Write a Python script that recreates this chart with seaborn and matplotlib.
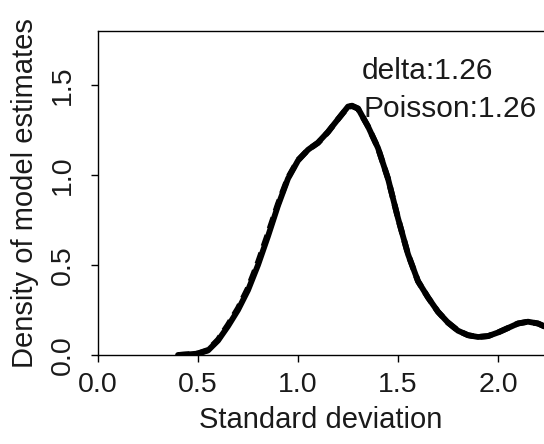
import matplotlib
matplotlib.use("Agg")
import matplotlib.pyplot as plt
import seaborn as sns
import pandas as pd

# Data
sd_grid = [0.40, 0.45, 0.50, 0.55, 0.60, 0.65, 0.70, 0.75, 0.80, 0.85,
           0.90, 0.95, 1.00, 1.05, 1.10, 1.15, 1.20, 1.25, 1.27, 1.30,
           1.35, 1.40, 1.45, 1.50, 1.55, 1.60, 1.65, 1.70, 1.75, 1.80,
           1.85, 1.90, 1.95, 2.00, 2.05, 2.10, 2.15, 2.20, 2.25]
delta_density = [0.0, 0.003, 0.008, 0.025, 0.08, 0.16, 0.25, 0.36, 0.50, 0.66,
                 0.83, 0.98, 1.08, 1.14, 1.18, 1.24, 1.31, 1.38, 1.385, 1.37,
                 1.27, 1.15, 0.98, 0.76, 0.56, 0.41, 0.32, 0.24, 0.18, 0.135,
                 0.11, 0.10, 0.105, 0.125, 0.15, 0.175, 0.185, 0.175, 0.15]
poisson_density = [0.0, 0.004, 0.009, 0.028, 0.085, 0.168, 0.26, 0.372, 0.515, 0.675,
                   0.84, 0.985, 1.083, 1.14, 1.178, 1.238, 1.31, 1.378, 1.383, 1.368,
                   1.27, 1.15, 0.98, 0.76, 0.56, 0.41, 0.32, 0.24, 0.18, 0.135,
                   0.11, 0.10, 0.105, 0.125, 0.15, 0.175, 0.185, 0.175, 0.15]
annotations = ["delta:1.26", "Poisson:1.26"]
x_ticks = [0.0, 0.5, 1.0, 1.5, 2.0]
y_ticks = [0.0, 0.5, 1.0, 1.5]

sns.set_style("ticks")
plt.rcParams["font.family"] = ["Liberation Sans", "DejaVu Sans"]

df = pd.DataFrame({"sd": sd_grid, "delta": delta_density, "poisson": poisson_density})

fig = plt.figure(figsize=(5.44, 4.44), dpi=100)
ax = fig.add_axes([98 / 544, 1 - 355 / 444, 1 - 98 / 544, (355 - 31) / 444])

sns.lineplot(data=df, x="sd", y="poisson", ax=ax, color="black", lw=4.2,
             linestyle=(0, (2.0, 1.2)), estimator=None, sort=False)
sns.lineplot(data=df, x="sd", y="delta", ax=ax, color="black", lw=4.2,
             estimator=None, sort=False)

ax.set_xlim(0, 2.23)
ax.set_ylim(0, 1.8)
ax.set_xticks(x_ticks)
ax.set_xticklabels([f"{v:.1f}" for v in x_ticks])
ax.set_yticks(y_ticks)
ax.set_yticklabels([f"{v:.1f}" for v in y_ticks], rotation=90, va="center")

for side in ["left", "bottom", "top"]:
    ax.spines[side].set_visible(True)
    ax.spines[side].set_color("black")
    ax.spines[side].set_linewidth(1.0)
ax.spines["right"].set_visible(False)

ax.tick_params(axis="both", direction="out", length=5, width=1.0,
               colors="black", labelsize=20.5, labelcolor="#1a1a1a")
ax.tick_params(axis="x", pad=7)
ax.tick_params(axis="y", pad=11)

ax.set_xlabel("Standard deviation", fontsize=21, color="#1a1a1a", labelpad=6)
ax.set_ylabel("Density of model estimates", fontsize=21, color="#1a1a1a", labelpad=8)

ax.text(1.32, 1.533, annotations[0], fontsize=21.5, color="#1a1a1a",
        ha="left", va="baseline")
ax.text(1.325, 1.322, annotations[1], fontsize=21.5, color="#1a1a1a",
        ha="left", va="baseline")

fig.savefig("out.png", dpi=100)
